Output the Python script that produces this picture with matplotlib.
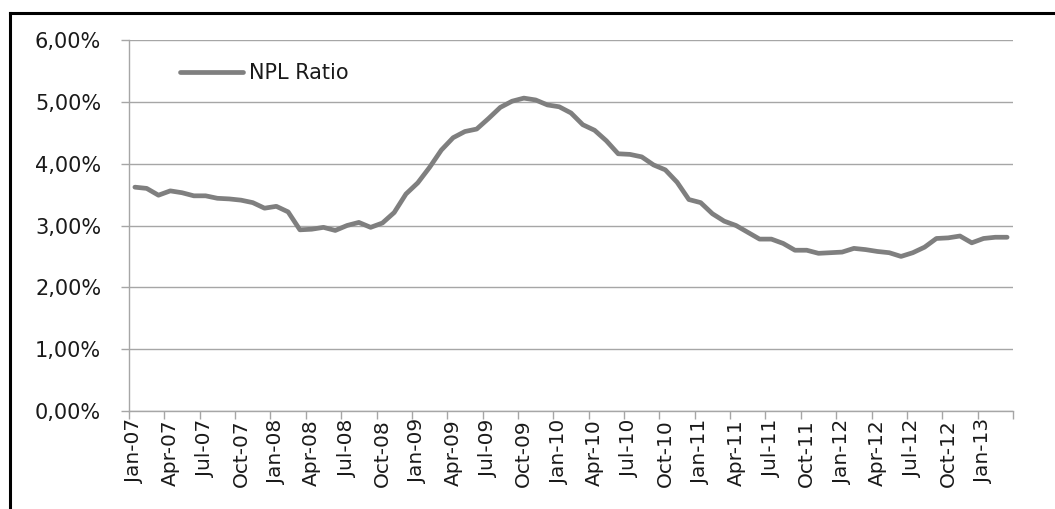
import matplotlib
matplotlib.use("Agg")
import matplotlib.pyplot as plt
from matplotlib.ticker import FuncFormatter, FixedLocator
from matplotlib.lines import Line2D

# Monthly NPL ratio (%), Jan-07 .. Mar-13
npl_ratio = [
    3.62, 3.60, 3.49, 3.56, 3.53, 3.48, 3.48, 3.44, 3.43, 3.41, 3.37, 3.28,   # 2007
    3.31, 3.22, 2.93, 2.94, 2.97, 2.92, 3.00, 3.05, 2.97, 3.04, 3.21, 3.51,   # 2008
    3.69, 3.94, 4.22, 4.42, 4.52, 4.56, 4.73, 4.91, 5.01, 5.06, 5.03, 4.95,   # 2009
    4.92, 4.82, 4.63, 4.54, 4.37, 4.16, 4.15, 4.11, 3.98, 3.90, 3.70, 3.42,   # 2010
    3.37, 3.19, 3.07, 3.00, 2.89, 2.78, 2.78, 2.71, 2.60, 2.60, 2.55, 2.56,   # 2011
    2.57, 2.63, 2.61, 2.58, 2.56, 2.50, 2.56, 2.65, 2.79, 2.80, 2.83, 2.72,   # 2012
    2.79, 2.81, 2.81,                                                         # 2013
]
tick_labels = [
    "Jan-07", "Apr-07", "Jul-07", "Oct-07", "Jan-08", "Apr-08", "Jul-08", "Oct-08",
    "Jan-09", "Apr-09", "Jul-09", "Oct-09", "Jan-10", "Apr-10", "Jul-10", "Oct-10",
    "Jan-11", "Apr-11", "Jul-11", "Oct-11", "Jan-12", "Apr-12", "Jul-12", "Oct-12",
    "Jan-13",
]
y_ticks = [0, 1, 2, 3, 4, 5, 6]
series_name = "NPL Ratio"

plt.rcParams['font.family'] = ['DejaVu Sans']
text_color = "#1a1a1a"
grid_color = "#a6a6a6"

fig = plt.figure(figsize=(10.55, 5.09), dpi=100)
ax = fig.add_axes([129 / 1055, 1 - 411 / 509, (1013 - 129) / 1055, (411 - 40) / 509])

x = list(range(len(npl_ratio)))
ax.plot(x, npl_ratio, color="#7f7f7f", linewidth=3.4, solid_joinstyle="round",
        solid_capstyle="round", label=series_name)

ax.set_xlim(-0.5, len(npl_ratio) - 0.5)
ax.set_ylim(0, 6)

# y axis
ax.set_yticks(y_ticks)
ax.yaxis.set_major_formatter(FuncFormatter(lambda v, p: f"{v:.2f}%".replace(".", ",")))
ax.tick_params(axis="y", direction="out", length=6, width=1, color=grid_color,
               labelsize=15, labelcolor=text_color, pad=14)
ax.grid(axis="y", color=grid_color, linewidth=1)
ax.set_axisbelow(True)

# x axis: labels at category centres, tick marks at category boundaries
label_pos = [i * 3 for i in range(len(tick_labels))]
ax.set_xticks(label_pos)
ax.set_xticklabels(tick_labels, rotation=90)
ax.tick_params(axis="x", which="major", length=0, labelsize=14.5, labelcolor=text_color, pad=6)
ax.xaxis.set_minor_locator(FixedLocator([b - 0.5 for b in range(0, len(npl_ratio) + 1, 3)]))
ax.tick_params(axis="x", which="minor", direction="out", length=6, width=1, color=grid_color)

for s in ["top", "right"]:
    ax.spines[s].set_visible(False)
for s in ["left", "bottom"]:
    ax.spines[s].set_color(grid_color)
    ax.spines[s].set_linewidth(1)

leg = ax.legend(loc="center left", bbox_to_anchor=((180 - 129) / 884, (411 - 73) / 371),
                frameon=False, fontsize=15, handlelength=3.0, handletextpad=0.3,
                borderpad=0, borderaxespad=0)
for t in leg.get_texts():
    t.set_color(text_color)

# chart-area frame (left and top edges visible)
fig.add_artist(Line2D([10 / 1055, 10 / 1055], [0, 1 - 13 / 509], transform=fig.transFigure,
                      color="black", linewidth=2.2))
fig.add_artist(Line2D([10 / 1055, 1], [1 - 13 / 509, 1 - 13 / 509], transform=fig.transFigure,
                      color="black", linewidth=2.2))

fig.savefig("out.png", dpi=100, facecolor="white")
